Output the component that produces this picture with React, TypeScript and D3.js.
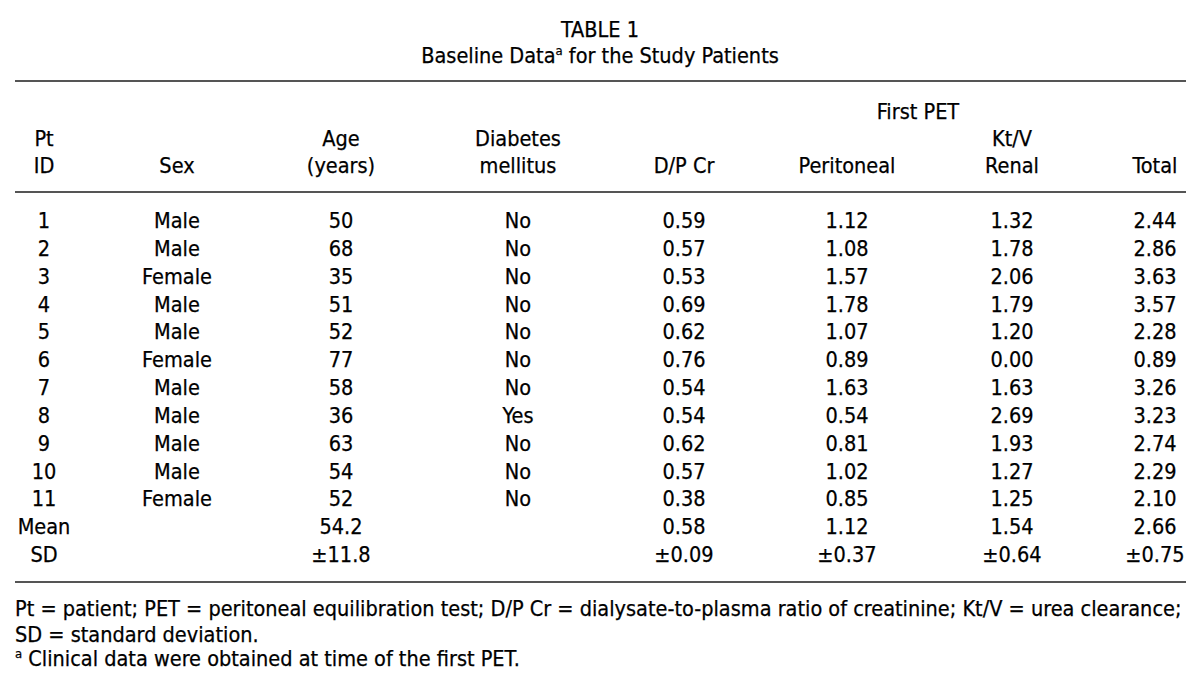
import React from "react";
import * as d3 from "d3";

const ptIds = ["1", "2", "3", "4", "5", "6", "7", "8", "9", "10", "11"];
const sexes = ["Male", "Male", "Female", "Male", "Male", "Female", "Male", "Male", "Male", "Male", "Female"];
const ages = [50, 68, 35, 51, 52, 77, 58, 36, 63, 54, 52];
const diabetes = ["No", "No", "No", "No", "No", "No", "No", "Yes", "No", "No", "No"];
const dpCr = [0.59, 0.57, 0.53, 0.69, 0.62, 0.76, 0.54, 0.54, 0.62, 0.57, 0.38];
const peritoneal = [1.12, 1.08, 1.57, 1.78, 1.07, 0.89, 1.63, 0.54, 0.81, 1.02, 0.85];
const renal = [1.32, 1.78, 2.06, 1.79, 1.2, 0.0, 1.63, 2.69, 1.93, 1.27, 1.25];
const total = [2.44, 2.86, 3.63, 3.57, 2.28, 0.89, 3.26, 3.23, 2.74, 2.29, 2.1];
const meanRow = ["Mean", "", "54.2", "", "0.58", "1.12", "1.54", "2.66"];
const sdRow = ["SD", "", "±11.8", "", "±0.09", "±0.37", "±0.64", "±0.75"];
const columnKeys = ["id", "sex", "age", "dm", "dp", "per", "ren", "tot"];
const headerLine1 = ["Pt", "", "Age", "Diabetes", "", "", "", ""];
const headerLine2 = ["ID", "Sex", "(years)", "mellitus", "D/P Cr", "Peritoneal", "Renal", "Total"];
const footnotes = [
  "Pt = patient; PET = peritoneal equilibration test; D/P Cr = dialysate-to-plasma ratio of creatinine; Kt/V = urea clearance;",
  "SD = standard deviation.",
];

const W = 1200;
const H = 686;
const FONT = "'DejaVu Sans', sans-serif";

export default function App() {
  const colX = d3
    .scaleOrdinal<string, number>()
    .domain(columnKeys)
    .range([44, 177, 341, 518, 684, 847, 1012, 1155]);

  const rows = ptIds.map((id, i) => [
    id,
    sexes[i],
    String(ages[i]),
    diabetes[i],
    d3.format(".2f")(dpCr[i]),
    d3.format(".2f")(peritoneal[i]),
    d3.format(".2f")(renal[i]),
    d3.format(".2f")(total[i]),
  ]);
  const allRows = [...rows, meanRow, sdRow];
  const rowY = d3
    .scalePoint<number>()
    .domain(d3.range(allRows.length))
    .range([228, 562]);

  const textStyle: React.CSSProperties = {
    fontFamily: FONT,
    fontStretch: "condensed",
    fontSize: 21.5,
    fill: "#000",
    stroke: "#000",
    strokeWidth: 0.25,
  };

  return (
    <svg
      width={W}
      height={H}
      style={{ position: "absolute", left: 0, top: 0, background: "#fff", display: "block" }}
    >
      <rect x={0} y={0} width={W} height={H} fill="#fff" />
      <text x={600} y={37} textAnchor="middle" style={textStyle}>TABLE 1</text>
      <text x={600} y={63} textAnchor="middle" style={textStyle}>
        Baseline Data
        <tspan fontSize={13} dy={-8}>a</tspan>
        <tspan dy={8}> for the Study Patients</tspan>
      </text>
      <line x1={15} x2={1186} y1={81} y2={81} stroke="#555" strokeWidth={2} />
      <text x={918} y={119} textAnchor="middle" style={textStyle}>First PET</text>
      <text x={colX("ren")} y={146} textAnchor="middle" style={textStyle}>Kt/V</text>
      {columnKeys.map((k, i) => (
        <g key={k}>
          {headerLine1[i] && (
            <text x={colX(k)} y={146} textAnchor="middle" style={textStyle}>{headerLine1[i]}</text>
          )}
          <text x={colX(k)} y={173} textAnchor="middle" style={textStyle}>{headerLine2[i]}</text>
        </g>
      ))}
      <line x1={15} x2={1186} y1={192} y2={192} stroke="#555" strokeWidth={2} />
      {allRows.map((r, ri) => (
        <g key={ri}>
          {r.map((cell, ci) =>
            cell ? (
              <text key={ci} x={colX(columnKeys[ci])} y={rowY(ri)} textAnchor="middle" style={textStyle}>
                {cell}
              </text>
            ) : null
          )}
        </g>
      ))}
      <line x1={15} x2={1186} y1={582} y2={582} stroke="#555" strokeWidth={2} />
      {footnotes.map((f, i) => (
        <text key={i} x={15} y={616 + i * 26} style={textStyle}>{f}</text>
      ))}
      <text x={15} y={666} style={textStyle}>
        <tspan fontSize={13} dy={-8}>a</tspan>
        <tspan dy={8}> Clinical data were obtained at time of the first PET.</tspan>
      </text>
    </svg>
  );
}
